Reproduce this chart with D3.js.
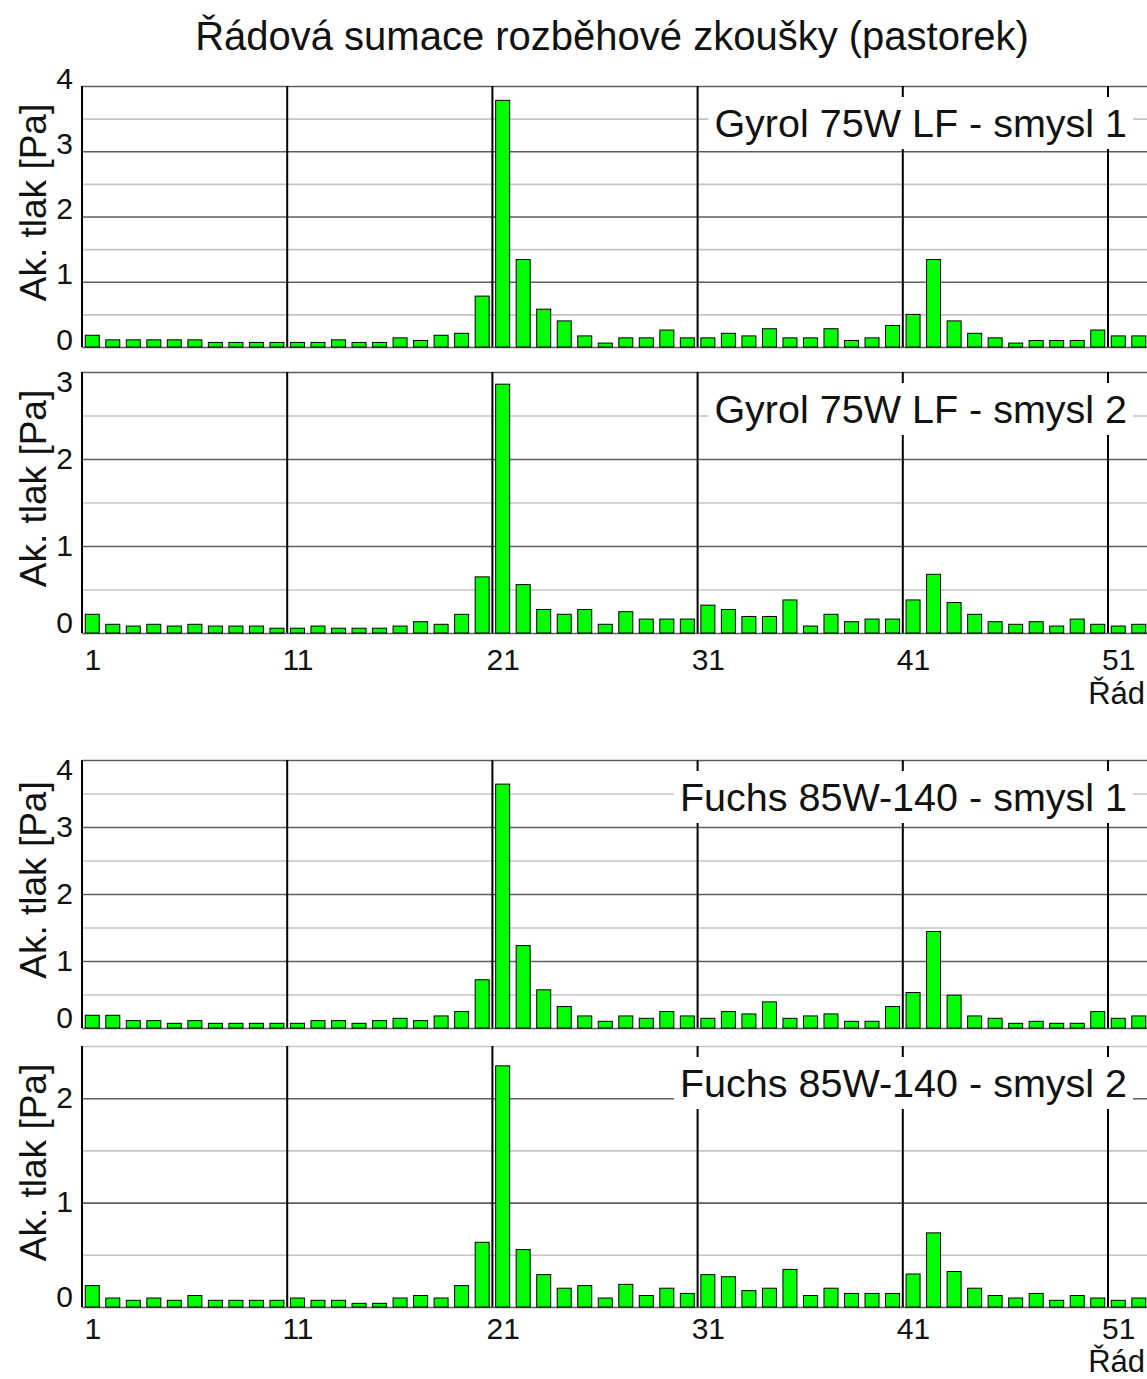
<!DOCTYPE html>
<html>
<head>
<meta charset="utf-8">
<script src="https://cdn.jsdelivr.net/npm/d3@7"></script>
<style>
  html, body { margin: 0; padding: 0; background: #fff; }
  svg { display: block; font-family: "Liberation Sans", Arial, Helvetica, sans-serif; }
</style>
</head>
<body>
<script>
// ---------- DATA ----------
const chartTitle = "Řádová sumace rozběhové zkoušky (pastorek)";
const yAxisTitle = "Ak. tlak [Pa]";
const xAxisTitle = "Řád";
const orders = d3.range(1, 53); // 1..52 (visible part)
const xTickValues = [1, 11, 21, 31, 41, 51];
const xGroupLines = [10.5, 20.5, 30.5, 40.5, 50.5];

const seriesNames = [
  "Gyrol 75W LF - smysl 1",
  "Gyrol 75W LF - smysl 2",
  "Fuchs 85W-140 - smysl 1",
  "Fuchs 85W-140 - smysl 2"
];
const yMaxValues = [4, 3, 4, 2.5];

const gyrol1 = [0.18,0.11,0.11,0.11,0.11,0.11,0.07,0.07,0.07,0.07,
                0.07,0.07,0.11,0.07,0.07,0.14,0.10,0.18,0.21,0.78,
                3.78,1.34,0.58,0.40,0.17,0.06,0.14,0.14,0.26,0.14,
                0.14,0.21,0.17,0.28,0.14,0.14,0.28,0.10,0.14,0.33,
                0.50,1.34,0.40,0.21,0.14,0.06,0.10,0.10,0.10,0.26,
                0.17,0.17];
const gyrol2 = [0.215,0.10,0.08,0.10,0.08,0.10,0.08,0.08,0.08,0.055,
                0.055,0.08,0.055,0.055,0.055,0.08,0.13,0.10,0.215,0.645,
                2.86,0.556,0.27,0.215,0.27,0.10,0.245,0.16,0.16,0.16,
                0.32,0.27,0.19,0.19,0.38,0.08,0.215,0.13,0.16,0.16,
                0.38,0.675,0.35,0.215,0.13,0.10,0.13,0.08,0.16,0.10,
                0.08,0.10];
const fuchs1 = [0.19,0.19,0.11,0.11,0.07,0.11,0.07,0.07,0.07,0.07,
                0.07,0.11,0.11,0.07,0.11,0.145,0.11,0.18,0.245,0.72,
                3.64,1.23,0.57,0.32,0.18,0.10,0.18,0.145,0.245,0.18,
                0.145,0.245,0.21,0.39,0.145,0.18,0.21,0.10,0.10,0.32,
                0.53,1.44,0.49,0.18,0.145,0.07,0.10,0.07,0.07,0.245,
                0.145,0.18];
const fuchs2 = [0.205,0.086,0.064,0.086,0.064,0.11,0.064,0.064,0.064,0.064,
                0.086,0.064,0.064,0.035,0.035,0.086,0.11,0.086,0.205,0.62,
                2.31,0.55,0.31,0.18,0.205,0.086,0.217,0.11,0.18,0.13,
                0.31,0.29,0.157,0.18,0.36,0.11,0.18,0.13,0.13,0.13,
                0.316,0.71,0.34,0.18,0.11,0.086,0.13,0.064,0.11,0.086,
                0.064,0.086];
const seriesValues = [gyrol1, gyrol2, fuchs1, fuchs2];

// ---------- LAYOUT ----------
const W = 1147, H = 1379;
const plotLeft = 82;
const panelLayout = [
  { top: 86,   bottom: 347,  showX: false, labelShift: -7, clamp: false },
  { top: 372,  bottom: 633,  showX: true, xLabelY: 670, xTitleY: 704, labelShift: 0, clamp: true },
  { top: 760,  bottom: 1028, showX: false, labelShift: 0, clamp: true },
  { top: 1046, bottom: 1307, showX: true, xLabelY: 1339, xTitleY: 1372, labelShift: 0, clamp: true }
];

const svg = d3.select("body").append("svg")
  .attr("width", W).attr("height", H)
  .attr("viewBox", `0 0 ${W} ${H}`);

const x = d3.scaleLinear().domain([0.5, 50.5]).range([plotLeft, 1108]);
const barW = 14;

svg.append("text")
  .attr("x", 612).attr("y", 50)
  .attr("text-anchor", "middle")
  .attr("font-size", 40)
  .attr("fill", "#111")
  .text(chartTitle);

panelLayout.forEach((L, i) => {
  const ymax = yMaxValues[i];
  const vals = seriesValues[i];
  const y = d3.scaleLinear().domain([0, ymax]).range([L.bottom, L.top]);
  const g = svg.append("g");

  // horizontal grid (every 0.5)
  const gridVals = d3.range(0, ymax + 1e-9, 0.5);
  const grid = g.append("g").attr("transform", `translate(${plotLeft},0)`)
    .call(d3.axisLeft(y).tickValues(gridVals).tickSize(-(W - plotLeft)).tickFormat(""));
  grid.select(".domain").remove();
  grid.selectAll(".tick line")
    .attr("stroke", d => Number.isInteger(d) ? "#5e5e5e" : "#c4c4c4")
    .attr("stroke-width", 1.6);

  // vertical group lines
  g.append("g").selectAll("line").data(xGroupLines).join("line")
    .attr("x1", d => x(d)).attr("x2", d => x(d))
    .attr("y1", L.top).attr("y2", L.bottom)
    .attr("stroke", "#000").attr("stroke-width", 2);

  // bars
  g.append("g").selectAll("rect").data(orders).join("rect")
    .attr("x", o => x(o) - barW / 2)
    .attr("width", barW)
    .attr("y", (o, k) => y(vals[k]))
    .attr("height", (o, k) => y(0) - y(vals[k]))
    .attr("fill", "#00ff00")
    .attr("stroke", "#000")
    .attr("stroke-width", 1);

  // left axis line + tick labels
  const yTicks = d3.range(0, Math.floor(ymax) + 1);
  const ax = g.append("g").attr("transform", `translate(${plotLeft},0)`)
    .call(d3.axisLeft(y).tickValues(yTicks).tickSize(0).tickPadding(9).tickFormat(d3.format("d")));
  ax.select(".domain").attr("stroke", "#000").attr("stroke-width", 2)
    .attr("d", `M0,${L.top}V${L.bottom}`);
  ax.selectAll(".tick").attr("transform", d => {
    let ty = y(d) + L.labelShift;
    if (L.clamp) ty = Math.max(L.top + 10, Math.min(L.bottom - 10, ty));
    return `translate(0,${ty})`;
  });
  ax.selectAll(".tick text")
    .attr("font-size", 30).attr("font-family", "Liberation Sans, Arial, sans-serif")
    .attr("fill", "#111");

  // y axis title
  g.append("text")
    .attr("transform", `translate(46,${(L.top + L.bottom) / 2 - 14}) rotate(-90)`)
    .attr("text-anchor", "middle")
    .attr("font-size", 37)
    .attr("fill", "#111")
    .text(yAxisTitle);

  // legend box
  const lg = g.append("g");
  const box = lg.append("rect").attr("fill", "#fff");
  const lt = lg.append("text")
    .attr("x", 1127).attr("y", L.top + 51)
    .attr("text-anchor", "end")
    .attr("font-size", 39.5)
    .attr("fill", "#111")
    .text(seriesNames[i]);
  const bb = lt.node().getBBox();
  box.attr("x", bb.x - 6).attr("y", L.top + 11)
    .attr("width", 1133 - (bb.x - 6)).attr("height", 52);

  // x axis labels
  if (L.showX) {
    const xa = g.append("g").attr("transform", `translate(0,${L.xLabelY})`)
      .call(d3.axisBottom(x).tickValues(xTickValues).tickSize(0).tickPadding(0).tickFormat(d3.format("d")));
    xa.select(".domain").remove();
    xa.selectAll(".tick text")
      .attr("dy", 0).attr("y", 0)
      .attr("font-size", 30).attr("font-family", "Liberation Sans, Arial, sans-serif")
      .attr("fill", "#111");
    g.append("text")
      .attr("x", 1145).attr("y", L.xTitleY)
      .attr("text-anchor", "end")
      .attr("font-size", 31)
      .attr("fill", "#111")
      .text(xAxisTitle);
  }
});
</script>
</body>
</html>
